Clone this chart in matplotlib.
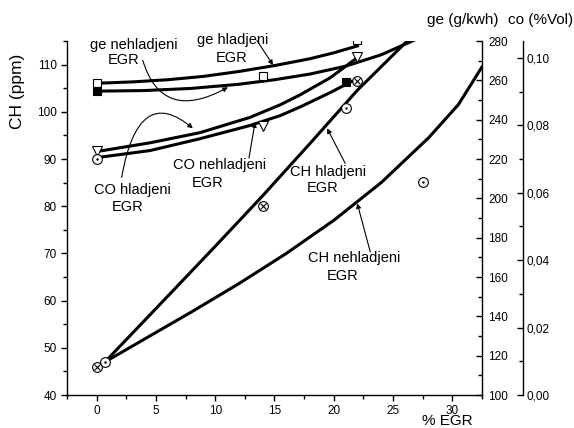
import matplotlib
matplotlib.use("Agg")
import matplotlib.pyplot as plt
from matplotlib.ticker import MultipleLocator, FuncFormatter

plt.rcParams['font.family'] = ['Liberation Sans', 'DejaVu Sans']

# fitted curves, % EGR on x
ch_hl_x = [0.7, 5, 10, 14, 18, 22, 27]
ch_hl_y = [47, 58.3, 71.5, 82.2, 93.3, 104.6, 117]
ch_nehl_x = [0.7, 4, 8, 12, 16, 20, 24, 28, 30.5, 32.5]
ch_nehl_y = [47, 51.8, 57.6, 63.6, 70.0, 77.0, 85.0, 94.5, 101.5, 109.5]

ge_hl_x = [0, 3, 6, 9, 12, 15, 18, 20, 22]
ge_hl_y = [258.5, 259.2, 260.3, 262.0, 264.5, 267.5, 271.0, 274.0, 277.5]
ge_nehl_x = [0, 4, 8, 12, 15, 18, 21, 24, 27]
ge_nehl_y = [254.5, 254.8, 255.9, 258.0, 260.3, 263.2, 267.2, 273.0, 281.0]

co_hl_x = [0, 4.5, 8.7, 12.9, 15.5, 17.2, 19.7, 22]
co_hl_y = [0.0722, 0.0748, 0.0778, 0.0823, 0.0861, 0.0891, 0.0941, 0.1001]
co_nehl_x = [0, 4.5, 8.7, 12.9, 15.5, 17.2, 19.7, 21.5]
co_nehl_y = [0.0704, 0.0725, 0.0760, 0.0799, 0.0829, 0.0855, 0.0897, 0.0930]

# measured points
ge_sq_x = [0, 14, 22]
ge_sq_y = [258.6, 262, 280.5]
ge_fsq_x = [0, 21]
ge_fsq_y = [254.4, 259.4]
co_tri_x = [0, 14, 22]
co_tri_y = [0.0725, 0.0799, 0.1004]
co_circ_x = [0]
co_circ_y = [0.0701]
ch_cross_x = [0, 14, 22]
ch_cross_y = [46, 80, 106.6]
ch_dot_x = [0.7, 21, 27.5]
ch_dot_y = [47, 100.8, 85.2]

lw = 2.2
fig = plt.figure(figsize=(5.74, 4.28), dpi=100)
ax = fig.add_axes([0.1167, 0.0771, 0.7230, 0.8271])
ax2 = ax.twinx()
ax3 = ax.twinx()

ax.set_xlim(-2.5, 32.5)
ax.set_ylim(40, 115)
ax2.set_ylim(100, 280)
ax3.set_ylim(0, 0.105)

# CH
ax.plot(ch_hl_x, ch_hl_y, color='black', lw=lw)
ax.plot(ch_nehl_x, ch_nehl_y, color='black', lw=lw)
ax.plot(ch_cross_x, ch_cross_y, 'o', ms=7, mfc='white', mec='black', mew=0.8, zorder=5)
ax.plot(ch_cross_x, ch_cross_y, 'x', ms=5, mec='black', mew=0.8, zorder=6)
ax.plot(ch_dot_x, ch_dot_y, 'o', ms=7, mfc='white', mec='black', mew=0.8, zorder=5)
ax.plot(ch_dot_x, ch_dot_y, '.', ms=1.5, color='black', zorder=6)

# ge
ax2.plot(ge_hl_x, ge_hl_y, color='black', lw=lw)
ax2.plot(ge_nehl_x, ge_nehl_y, color='black', lw=lw)
ax2.plot(ge_sq_x, ge_sq_y, 's', ms=6, mfc='white', mec='black', mew=0.8, zorder=5)
ax2.plot(ge_fsq_x, ge_fsq_y, 's', ms=6, mfc='black', mec='black', mew=0.8, zorder=5)

# CO
ax3.plot(co_hl_x, co_hl_y, color='black', lw=lw)
ax3.plot(co_nehl_x, co_nehl_y, color='black', lw=lw)
ax3.plot(co_tri_x, co_tri_y, 'v', ms=7, mfc='white', mec='black', mew=0.8, zorder=5)
ax3.plot(co_circ_x, co_circ_y, 'o', ms=7, mfc='white', mec='black', mew=0.8, zorder=5)
ax3.plot(co_circ_x, co_circ_y, '.', ms=1.5, color='black', zorder=6)

# spines
ax.spines['top'].set_visible(False)
ax.spines['right'].set_visible(False)
for s in ['top', 'left', 'bottom']:
    ax2.spines[s].set_visible(False)
    ax3.spines[s].set_visible(False)
ax3.spines['right'].set_position(('axes', 1.099))
for a in (ax, ax2, ax3):
    for s in a.spines.values():
        s.set_linewidth(1.0)

ax.xaxis.set_major_locator(MultipleLocator(5))
ax.xaxis.set_minor_locator(MultipleLocator(2.5))
ax.yaxis.set_major_locator(MultipleLocator(10))
ax.yaxis.set_minor_locator(MultipleLocator(5))
ax2.yaxis.set_major_locator(MultipleLocator(20))
ax2.yaxis.set_minor_locator(MultipleLocator(10))
ax3.yaxis.set_major_locator(MultipleLocator(0.02))
ax3.yaxis.set_minor_locator(MultipleLocator(0.01))
ax3.yaxis.set_major_formatter(FuncFormatter(lambda v, p: f"{v:.2f}".replace('.', ',')))

ax.tick_params(axis='both', which='major', direction='out', length=4.5, width=1, labelsize=8.5, pad=3)
ax.tick_params(axis='both', which='minor', direction='out', length=3, width=1)
ax2.tick_params(axis='y', which='major', direction='in', length=4.5, width=1, labelsize=8.5, pad=4.5)
ax2.tick_params(axis='y', which='minor', direction='in', length=3, width=1)
ax3.tick_params(axis='y', which='major', direction='in', length=4.5, width=1, labelsize=8.5, pad=2.5)
ax3.tick_params(axis='y', which='minor', direction='in', length=3, width=1)

# axis titles
fig.text(0.031, 0.787, 'CH (ppm)', rotation=90, fontsize=12.5, ha='center', va='center')
fig.text(0.744, 0.953, 'ge (g/kwh)', fontsize=11, ha='left', va='center')
fig.text(0.885, 0.953, 'co (%Vol)', fontsize=11, ha='left', va='center')
fig.text(0.779, 0.016, '% EGR', fontsize=11, ha='center', va='center')

# curve labels
labels = [
    ('ge nehladjeni', 3.13, 114.1, 2.28, 110.9),
    ('ge hladjeni', 11.5, 115.15, 11.41, 111.3),
    ('CO hladjeni', 3.04, 83.4, 2.62, 79.8),
    ('CO nehladjeni', 10.4, 88.7, 9.38, 84.9),
    ('CH hladjeni', 19.53, 87.2, 19.02, 83.8),
    ('CH nehladjeni', 21.72, 69.0, 20.71, 65.2),
]
for t, x1, y1, x2, y2 in labels:
    ax.text(x1, y1, t, fontsize=10.5, ha='center', va='center', clip_on=False)
    ax.text(x2, y2, 'EGR', fontsize=10.5, ha='center', va='center', clip_on=False)

aprops = dict(arrowstyle='-|>', lw=0.8, color='black', mutation_scale=7, shrinkA=0, shrinkB=0)
ax.annotate('', xy=(11.07, 105.2), xytext=(3.89, 110.9),
            arrowprops=dict(aprops, connectionstyle='angle3,angleA=-73,angleB=29'))
ax.annotate('', xy=(14.88, 109.9), xytext=(13.52, 115.1), arrowprops=aprops)
ax.annotate('', xy=(8.11, 96.5), xytext=(2.11, 86.1),
            arrowprops=dict(aprops, connectionstyle='angle3,angleA=80,angleB=140'))
ax.annotate('', xy=(13.36, 97.8), xytext=(12.85, 90.2), arrowprops=aprops)
ax.annotate('', xy=(19.44, 96.5), xytext=(20.96, 89.1), arrowprops=aprops)
ax.annotate('', xy=(21.98, 80.6), xytext=(23.08, 70.3), arrowprops=aprops)

fig.savefig('out.png', dpi=100)
